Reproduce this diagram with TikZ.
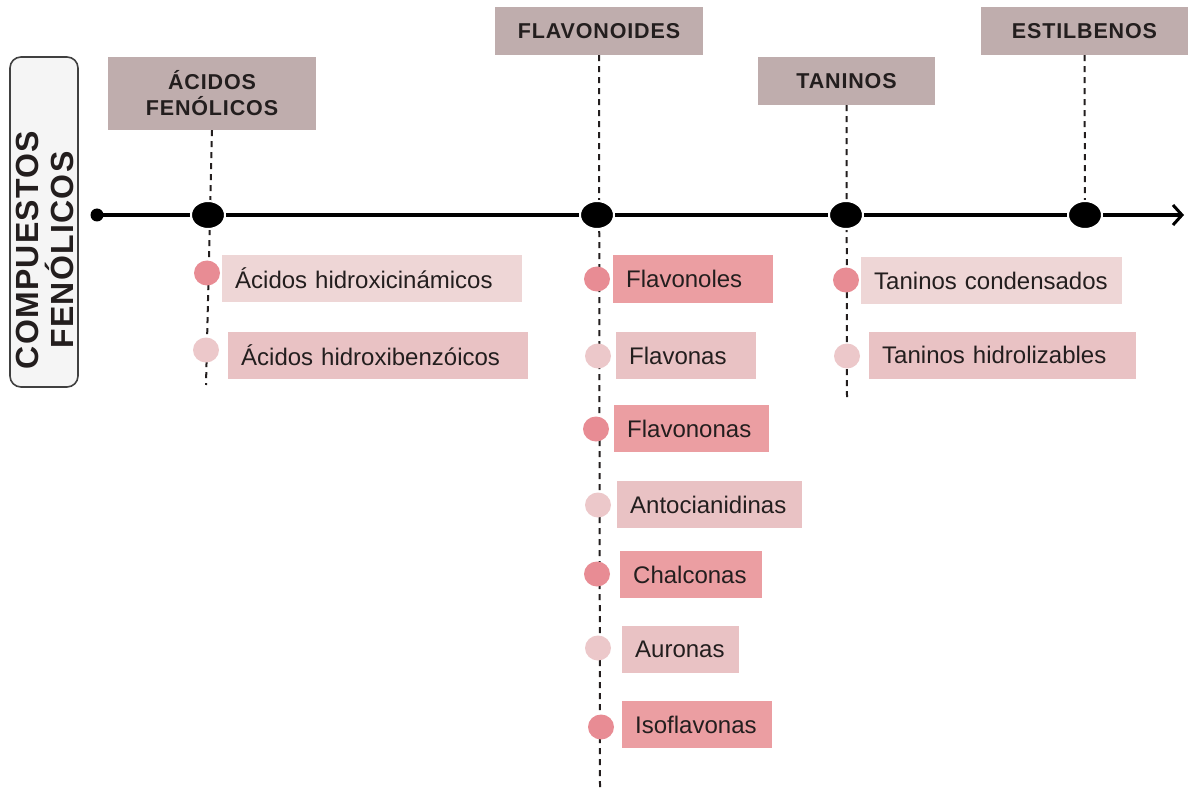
\documentclass[tikz,border=0pt]{standalone}
\usepackage{fontspec}
\setmainfont{Liberation Sans}
\newfontfamily\headfont[LetterSpace=4]{Liberation Sans}
\newfontfamily\sidefont[LetterSpace=4]{Liberation Sans}
\usepackage{tikz}
\usetikzlibrary{arrows.meta,shapes.geometric}

\definecolor{headgray}{RGB}{191,173,173}
\definecolor{rosedark}{RGB}{235,158,162}
\definecolor{rosemid}{RGB}{233,194,196}
\definecolor{roselight}{RGB}{238,214,214}
\definecolor{dotdark}{RGB}{232,140,148}
\definecolor{dotlight}{RGB}{236,200,202}
\definecolor{inkgray}{RGB}{35,30,30}

\tikzset{
  header/.style={fill=headgray, align=center, inner sep=0pt, text=inkgray,
    font=\headfont\bfseries\fontsize{21.5}{26}\selectfont},
  item/.style={anchor=west, minimum height=47pt, inner xsep=13pt, inner ysep=0pt,
    align=left, text=inkgray, font=\fontsize{24}{28}\selectfont},
  bigdot/.style={ellipse, fill=black, draw=white, line width=2pt,
    minimum width=34pt, minimum height=28pt, inner sep=0pt},
  dotdk/.style={ellipse, fill=dotdark, minimum width=26pt, minimum height=25pt, inner sep=0pt},
  dotlt/.style={ellipse, fill=dotlight, minimum width=26pt, minimum height=25pt, inner sep=0pt},
  guide/.style={draw=inkgray, line width=2pt, dash pattern=on 6pt off 5pt},
}

\begin{document}
\begin{tikzpicture}[x=1pt,y=-1pt]
\useasboundingbox (0,0) rectangle (1188,794);

% side label
\node[draw=black!75, line width=1.6pt, fill=black!4, rounded corners=11pt, rotate=90,
  minimum width=330pt, minimum height=68pt, inner sep=0pt] (side) at (44,222) {};
\node[rotate=90, inner sep=0pt, align=center, text=inkgray,
  font=\sidefont\bfseries\fontsize{32}{35}\selectfont] (sidetext) at (45,250) {COMPUESTOS\\FENÓLICOS};

% headers
\node[header, minimum width=208pt, minimum height=73pt] (hacid) at (212,93.5) {ÁCIDOS\\FENÓLICOS};
\node[header, minimum width=208pt, minimum height=48pt] (hflav) at (599,31) {FLAVONOIDES};
\node[header, minimum width=177pt, minimum height=48pt] (htan) at (846.5,81) {TANINOS};
\node[header, minimum width=207pt, minimum height=48pt] (hest) at (1084.5,31) {ESTILBENOS};

% guide lines
\coordinate (eacid) at (206,385);
\coordinate (eflav) at (600,790);
\coordinate (etan) at (847,402);
\coordinate (eest) at (1085,215);
\draw[guide] (hacid.south) -- (eacid);
\draw[guide] (hflav.south) -- (eflav);
\draw[guide] (htan.south) -- (etan);
\draw[guide] (hest.south) -- (eest);

% time line
\fill[black] (97,215) circle (6.5pt);
\coordinate (start) at (97,215);
\coordinate (stop) at (1184,215);
\draw[line width=4pt, -{Straight Barb[length=9pt,width=20pt,line width=3pt]}] (start) -- (stop);

\node[bigdot] (dacid) at (208,215) {};
\node[bigdot] (dflav) at (597,215) {};
\node[bigdot] (dtan) at (846,215) {};
\node[bigdot] (dest) at (1085,215) {};

% acidos fenolicos
\node[dotdk] (a1) at (207,273) {};
\node[item, fill=roselight, text width=274pt] (ahc) at (222,278.5) {Ácidos hidroxicinámicos};
\node[dotlt] (a2) at (206,350) {};
\node[item, fill=rosemid, text width=274pt] (ahb) at (228,355) {Ácidos hidroxibenzóicos};

% flavonoides
\node[dotdk] (f1) at (597,279) {};
\node[item, fill=rosedark, text width=134pt] (fol) at (613,279) {Flavonoles};
\node[dotlt] (f2) at (598,356) {};
\node[item, fill=rosemid, text width=114pt] (fon) at (616,355.5) {Flavonas};
\node[dotdk] (f3) at (596,429) {};
\node[item, fill=rosedark, text width=129pt] (fnn) at (614,428.5) {Flavononas};
\node[dotlt] (f4) at (598,505) {};
\node[item, fill=rosemid, text width=159pt] (ant) at (617,504.5) {Antocianidinas};
\node[dotdk] (f5) at (597,574) {};
\node[item, fill=rosedark, text width=116pt] (cha) at (620,574.5) {Chalconas};
\node[dotlt] (f6) at (598,648) {};
\node[item, fill=rosemid, text width=91pt] (aur) at (622,649.5) {Auronas};
\node[dotdk] (f7) at (601,727) {};
\node[item, fill=rosedark, text width=124pt] (iso) at (622,724.5) {Isoflavonas};

% taninos
\node[dotdk] (t1) at (846,280) {};
\node[item, fill=roselight, text width=235pt] (tco) at (861,280.5) {Taninos condensados};
\node[dotlt] (t2) at (847,356) {};
\node[item, fill=rosemid, text width=241pt] (thi) at (869,355) {Taninos hidrolizables};

\end{tikzpicture}
\end{document}
